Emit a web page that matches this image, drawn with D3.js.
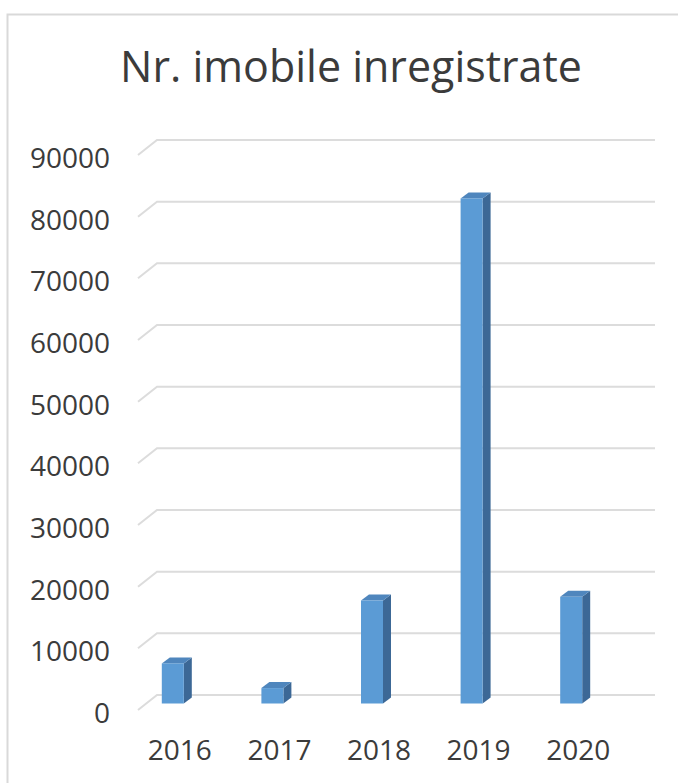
<!DOCTYPE html>
<html>
<head>
<meta charset="utf-8">
<script src="https://cdn.jsdelivr.net/npm/d3@7"></script>
<style>
  body { margin: 0; background: #fff; }
  svg { display: block; }
  text { font-family: "Open Sans", sans-serif; fill: #3b3b3b; }
</style>
</head>
<body>
<div id="chart"></div>
<script>
// chart data
var years = ["2016", "2017", "2018", "2019", "2020"];
var imobile = [6500, 2500, 16700, 81900, 17300];
var yTicks = [0, 10000, 20000, 30000, 40000, 50000, 60000, 70000, 80000, 90000];
var title = "Nr. imobile inregistrate";

var width = 678, height = 783;
var depth = { dx: 19, dy: -15 };   // floor / wall depth
var bar = { w: 22, dx: 8, dy: -6, shift: -18 };

var svg = d3.select("#chart").append("svg")
  .attr("width", width).attr("height", height);

// chart area border
svg.append("rect")
  .attr("x", 7.5).attr("y", 14.5)
  .attr("width", width + 10).attr("height", height + 10)
  .attr("fill", "none").attr("stroke", "#d9d9d9").attr("stroke-width", 2);

var y = d3.scaleLinear().domain([0, 90000]).range([710, 155]);
var yBar = d3.scaleLinear().domain([0, 90000]).range([703.5, 703.5 - 555]);
var x = d3.scaleBand().domain(years).range([130, 628]);

// gridlines (front edge -> back wall)
svg.append("g").selectAll("polyline").data(yTicks).enter().append("polyline")
  .attr("points", function(d) {
    var yf = y(d);
    return [[138, yf], [138 + depth.dx, yf + depth.dy], [655, yf + depth.dy]].join(" ");
  })
  .attr("fill", "none").attr("stroke", "#dcdcdc").attr("stroke-width", 2);

// y labels
svg.append("g").selectAll("text").data(yTicks).enter().append("text")
  .attr("x", 110).attr("y", function(d) { return y(d) + 2; })
  .attr("text-anchor", "end").attr("dominant-baseline", "central")
  .style("font-size", "28px")
  .text(function(d) { return d; });

// 3d bars
var bars = svg.append("g").selectAll("g").data(years).enter().append("g");
bars.each(function(d, i) {
  var g = d3.select(this);
  var x0 = x(d) + x.bandwidth() / 2 + bar.shift, x1 = x0 + bar.w;
  var y0 = yBar(0), y1 = yBar(imobile[i]);
  // side
  g.append("polygon")
    .attr("points", [[x1, y1], [x1 + bar.dx, y1 + bar.dy], [x1 + bar.dx, y0 + bar.dy], [x1, y0]].join(" "))
    .attr("fill", "#3c6896");
  // top
  g.append("polygon")
    .attr("points", [[x0, y1], [x0 + bar.dx, y1 + bar.dy], [x1 + bar.dx, y1 + bar.dy], [x1, y1]].join(" "))
    .attr("fill", "#4f86bd");
  // front
  g.append("rect")
    .attr("x", x0).attr("y", y1).attr("width", bar.w).attr("height", y0 - y1)
    .attr("fill", "#5b9bd5");
});

// category labels
svg.append("g").selectAll("text").data(years).enter().append("text")
  .attr("x", function(d) { return x(d) + x.bandwidth() / 2; })
  .attr("y", 760)
  .attr("text-anchor", "middle")
  .style("font-size", "28px")
  .text(function(d) { return d; });

// title
var t = svg.append("text")
  .attr("x", 351).attr("y", 82)
  .attr("text-anchor", "middle")
  .style("font-size", "40px")
  .text(title);
// fit to the reference title width
var len = t.node().getComputedTextLength();
t.style("font-size", (40 * 462 / len) + "px");
</script>
</body>
</html>
